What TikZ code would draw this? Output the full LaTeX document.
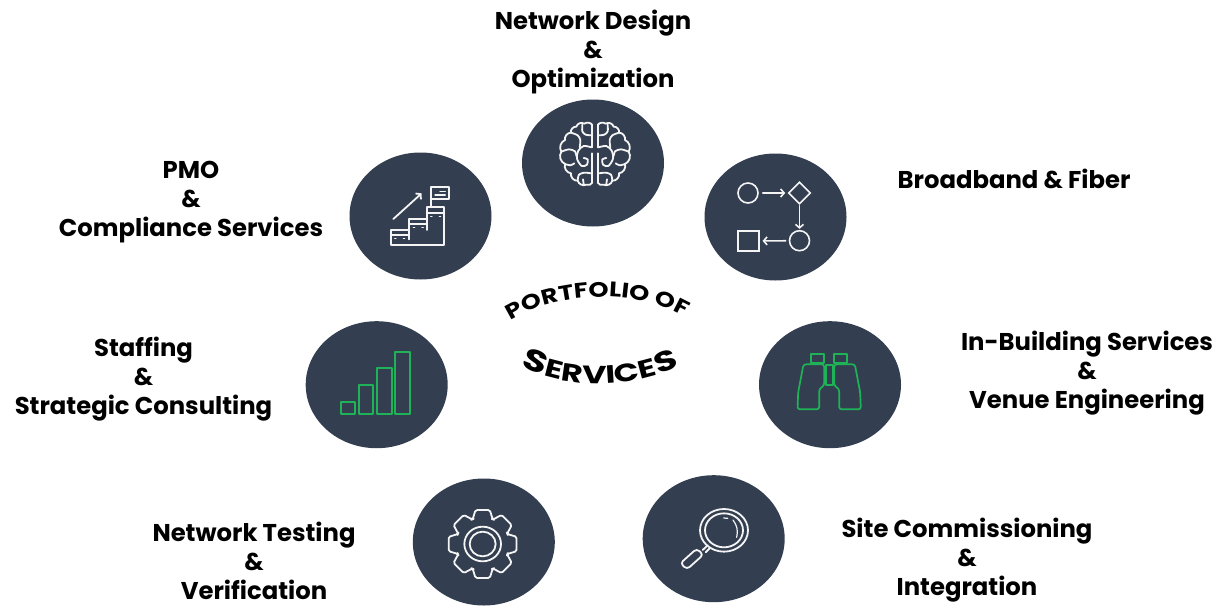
\documentclass[tikz,border=0pt]{standalone}
\usepackage{fontspec}
\setmainfont{Poppins}[BoldFont={Poppins Bold}]
\newfontfamily\widefont{Poppins Bold}[FakeStretch=1.22]
\newfontfamily\widerfont{Poppins Bold}[FakeStretch=1.32]
\usetikzlibrary{shapes.geometric,arrows.meta,decorations.text}
\definecolor{disc}{HTML}{333F50}
\definecolor{icong}{HTML}{1FB257}
\definecolor{iconw}{HTML}{F4F4F4}
\tikzset{
  disc/.style={ellipse,fill=disc,draw=none,minimum width=142pt,minimum height=127pt,inner sep=0pt},
  lbl/.style={font=\fontsize{24.3}{29}\selectfont\bfseries,align=center,text=black,inner sep=0pt},
  wline/.style={draw=iconw,line width=1.8pt,line join=round,line cap=round},
  gline/.style={draw=icong,line width=1.7pt,line join=round},
  zoomed/.style 2 args={shift={(#1,#2)},x=0.33333pt,y=-0.33333pt},
  flowshape/.style={draw=iconw,line width=1.6pt,inner sep=0pt,fill=none},
  flowarrow/.style={wline,line width=1.6pt,-{Straight Barb[length=3.5pt,width=8pt]}},
}
\begin{document}
\begin{tikzpicture}[x=1pt,y=-1pt]
\useasboundingbox (0,0) rectangle (1218,605);
% discs
\node[disc] (dBrain) at (593,163) {};
\node[disc] (dFlow) at (775.5,217) {};
\node[disc] (dPmo) at (420.5,216) {};
\node[disc] (dStaff) at (376.7,384.7) {};
\node[disc] (dBino) at (830,384.7) {};
\node[disc] (dGear) at (483.8,542) {};
\node[disc] (dLens) at (713.7,538.7) {};
% labels
\node[lbl] (tBrain) at (593,52) {Network Design\\\&\\Optimization};
\node[lbl] (tFlow) at (1014,179) {Broadband \& Fiber};
\node[lbl] (tPmo) at (191,202) {PMO\\\&\\Compliance Services};
\node[lbl] (tStaff) at (143.5,379.5) {Staffing\\\&\\Strategic Consulting};
\node[lbl] (tBino) at (1087,373) {In-Building Services\\\&\\Venue Engineering};
\node[lbl] (tGear) at (254,560.5) {Network Testing\\\&\\Verification};
\node[lbl] (tLens) at (967,560) {Site Commissioning\\\&\\Integration};
% curved title
\path[decorate,decoration={text along path,text align=center,
  text format delimiters={|}{|},
  text={|\fontsize{21}{21}\widefont|PORTFOLIO OF}}]
  (503,326) .. controls (550,289) and (645,287) .. (693,322);
\path[decorate,decoration={text along path,text align=center,
  text format delimiters={|}{|},
  text={|\fontsize{30}{30}\widerfont|S|\fontsize{25}{25}\widerfont|ERVICE|\fontsize{28}{28}\widerfont|S}}]
  (516,364) .. controls (565,390) and (630,390) .. (684,364);
% brain
\begin{scope}[zoomed={490}{90}]
 \foreach \sx in {1,-1}{
 \begin{scope}[shift={(315,0)},xscale=\sx]
  \draw[wline] (8,105) -- (8,172) (8,190) -- (8,278);
  \draw[wline] (8,105) to[bend left=45] (32,101) to[bend left=55] (56,110)
     to[bend left=55] (72,128) to[bend left=50] (90,150) to[bend left=50] (101,185)
     to[bend left=50] (90,222) to[bend left=50] (72,250) to[bend left=55] (52,272)
     to[bend left=50] (26,284) to[bend left=40] (8,278);
  \draw[wline] plot[smooth] coordinates {(38,104) (38,124) (28,134) (10,136)};
  \draw[wline] plot[smooth] coordinates {(72,128) (52,136) (44,150) (46,172)};
  \draw[wline] plot[smooth] coordinates {(101,185) (78,178) (60,184) (56,198)};
  \draw[wline] plot[smooth] coordinates {(10,172) (34,168) (50,182) (54,206) (40,228) (24,224) (22,208) (34,204)};
  \draw[wline] plot[smooth] coordinates {(90,222) (74,226) (62,220)};
  \draw[wline] plot[smooth] coordinates {(52,272) (48,254) (32,248) (12,250)};
  \draw[wline] plot[smooth] coordinates {(34,282) (36,268)};
 \end{scope}}
\end{scope}
% flow icon
\node[flowshape,circle,minimum size=20pt] (fA) at (748,193) {};
\node[flowshape,diamond,minimum size=22pt] (fB) at (799.5,193) {};
\node[flowshape,circle,minimum size=20pt] (fC) at (799.5,240.7) {};
\node[flowshape,rectangle,minimum size=20.5pt] (fD) at (748.5,241) {};
\draw[flowarrow,shorten <=4pt,shorten >=2.5pt] (fA) -- (fB);
\draw[flowarrow,shorten <=1pt,shorten >=1pt] (fB) -- (fC);
\draw[flowarrow,shorten <=3pt,shorten >=3pt] (fC) -- (fD);
% stairs
\begin{scope}[zoomed={340}{150}]
 \draw[wline] (152,285) -- (152,240) -- (207,240) -- (207,207) -- (260,207) -- (260,172) -- (313,172) -- (313,285) -- cycle;
 \draw[wline] (152,255) -- (207,255) (207,222) -- (260,222) (260,188) -- (313,188)
   (207,240) -- (207,268) (260,207) -- (260,240);
 \draw[wline,line width=1.2pt] (164,265) -- (168,265) (190,265) -- (194,265) (220,233) -- (224,233)
   (246,233) -- (250,233) (272,200) -- (276,200) (298,200) -- (302,200);
 \draw[wline] (272,172) -- (272,112) -- (328,112) -- (328,146) -- (272,146);
 \draw[wline,line width=1.1pt] (300,125) -- (316,125) (285,135) -- (316,135);
 \draw[wline,-{Straight Barb[length=3.5pt,width=8pt]}] (160,207) -- (245,130);
\end{scope}
% bars
\begin{scope}[zoomed={300}{315}]
 \draw[gline] (122,260) rectangle (165,298);
 \draw[gline] (176,210) rectangle (220,298);
 \draw[gline] (230,160) rectangle (275,298);
 \draw[gline] (285,112) rectangle (330,298);
\end{scope}
% binoculars
\begin{scope}[zoomed={750}{315}]
 \draw[gline] (183,118) rectangle (222,144);
 \draw[gline] (253,118) rectangle (292,144);
 \draw[gline] (228,150) rectangle (248,210);
 \foreach \sx in {1,-1}{
 \begin{scope}[shift={(237.5,0)},xscale=\sx]
  \draw[gline,rounded corners=2.5pt] (-15,148) -- (-77,148) -- (-93,232) -- (-95,283) -- (-30,283) -- (-30,222) -- (-15,212) -- cycle;
 \end{scope}}
\end{scope}
% gear
\begin{scope}[zoomed={405}{470}]
 \begin{scope}[shift={(233,222)}]
  \draw[wline,rounded corners=1.5pt]
    (-22:80)
    \foreach \a in {0,45,...,315}{
      -- ({\a-22}:80) -- ({\a-12}:104) -- ({\a+12}:104) -- ({\a+22}:80)
    } -- cycle;
  \draw[wline] (0,0) circle[x radius=55,y radius=52];
  \draw[wline] (0,0) circle[x radius=39,y radius=37];
 \end{scope}
\end{scope}
% magnifier
\begin{scope}[zoomed={405}{470}]
 \draw[wline] (957,181) circle[x radius=72,y radius=64];
 \draw[wline] (957,181) circle[x radius=57,y radius=51];
 \draw[wline,line width=1.2pt] (956,144) -- (968,145);
 \draw[wline,line width=1.2pt] (984,150) to[bend left=25] (995,202);
 \draw[wline] (908,226) -- (893,240) (915,234) -- (902,247);
 \draw[wline,rounded corners=3.5pt] (875,236) -- (895,254) -- (846,298) -- (826,280) -- cycle;
\end{scope}
\end{tikzpicture}
\end{document}
